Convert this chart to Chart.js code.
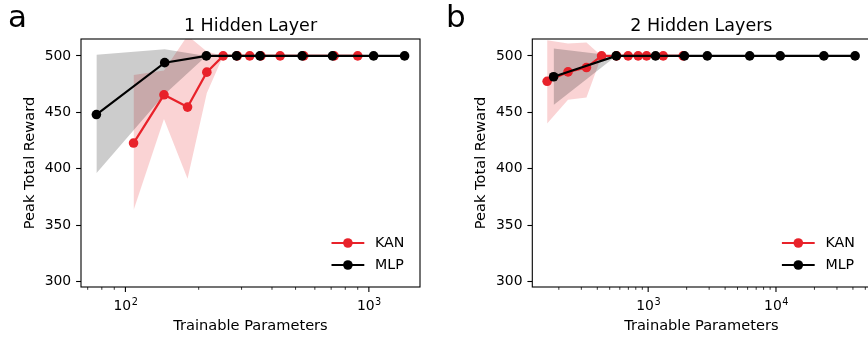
<!DOCTYPE html>
<html><head><meta charset="utf-8">
<script src="https://cdn.jsdelivr.net/npm/chart.js@4.4.1/dist/chart.umd.min.js"></script>
<style>
html,body{margin:0;padding:0;background:#fff;overflow:hidden;width:868px;height:341px;}
#wa{position:absolute;left:0;top:0;width:440px;height:341px;}
#wb{position:absolute;left:440px;top:0;width:440px;height:341px;}
</style></head><body>
<div id="wa"><canvas id="ca" width="440" height="341"></canvas></div>
<div id="wb"><canvas id="cb" width="440" height="341"></canvas></div>
<script>
// ---- Panel a: 1 hidden layer ----
const KAN_X_A = [108, 144, 180, 216, 252, 288, 324, 360, 432, 540, 720, 900];
const KAN_Y_A = [422.7, 465.5, 454.6, 485.6, 500, 500, 500, 500, 500, 500, 500, 500];
const KAN_LO_A = [363, 444, 391, 467, 500, 500, 500, 500, 500, 500, 500, 500];
const KAN_HI_A = [483, 487, 518, 504, 500, 500, 500, 500, 500, 500, 500, 500];
const MLP_X_A = [76, 145, 215, 286, 357, 532, 709, 1046, 1402];
const MLP_Y_A = [448, 494, 500, 500, 500, 500, 500, 500, 500];
const MLP_LO_A = [396, 466, 500, 500, 500, 500, 500, 500, 500];
const MLP_HI_A = [501, 506, 500, 500, 500, 500, 500, 500, 500];

// ---- Panel b: 2 hidden layers ----
const KAN_X_B = [162, 236, 329, 432, 566, 697, 835, 972, 1311, 1879];
const KAN_Y_B = [477.5, 485.8, 489.7, 500, 500, 500, 500, 500, 500, 500];
const KAN_LO_B = [440, 461, 463, 500, 500, 500, 500, 500, 500, 500];
const KAN_HI_B = [514, 511, 512, 500, 500, 500, 500, 500, 500, 500];
const MLP_X_B = [182, 562, 1142, 1922, 2902, 6227, 10802, 23702, 41602];
const MLP_Y_B = [481.5, 500, 500, 500, 500, 500, 500, 500, 500];
const MLP_LO_B = [456.5, 500, 500, 500, 500, 500, 500, 500, 500];
const MLP_HI_B = [506.5, 500, 500, 500, 500, 500, 500, 500, 500];

const Y_TICKS = [300, 350, 400, 450, 500];
const X_TICKS_A = [100, 1000];
const X_TICKS_B = [1000, 10000];
const SERIES_NAMES = ['KAN', 'MLP'];

const RED = '#e8222a', BLACK = '#000000';
const RED_BAND = 'rgba(232,34,42,0.2)', GRAY_BAND = 'rgba(0,0,0,0.2)';
const FONT = "'DejaVu Sans', sans-serif";

function pts(xs, ys) { return xs.map((x, i) => ({x: x, y: ys[i]})); }

function bandSet(xs, ys, fill, color, order) {
  return {data: pts(xs, ys), borderWidth: 0, borderColor: 'transparent', pointRadius: 0,
    pointHoverRadius: 0, fill: fill, backgroundColor: color, order: order};
}
function lineSet(label, xs, ys, color, order) {
  return {label: label, data: pts(xs, ys), borderColor: color, backgroundColor: color,
    borderWidth: 2.2, pointRadius: 4.8, pointHoverRadius: 4.8, pointBorderWidth: 0,
    pointBackgroundColor: color, fill: false, order: order};
}

function drawSup(ctx, base, exp, cx, baseline) {
  ctx.font = '13.9px ' + FONT;
  const w1 = ctx.measureText(base).width;
  ctx.font = '9.7px ' + FONT;
  const w2 = ctx.measureText(exp).width;
  const x0 = cx - (w1 + w2) / 2;
  ctx.textAlign = 'left'; ctx.textBaseline = 'alphabetic';
  ctx.font = '13.9px ' + FONT;
  ctx.fillText(base, x0, baseline);
  ctx.font = '9.7px ' + FONT;
  ctx.fillText(exp, x0 + w1 + 0.5, baseline - 5.5);
}

function makeChart(id, c) {
  const decor = {
    id: 'decor',
    afterDraw(chart) {
      const ctx = chart.ctx, ca = chart.chartArea, xs = chart.scales.x;
      ctx.save();
      ctx.fillStyle = '#000'; ctx.strokeStyle = '#000';
      // frame
      ctx.lineWidth = 1.1;
      ctx.strokeRect(ca.left, ca.top, ca.right - ca.left, ca.bottom - ca.top);
      // x ticks (major + minor)
      const k0 = Math.floor(Math.log10(xs.min)), k1 = Math.ceil(Math.log10(xs.max));
      for (let k = k0; k <= k1; k++) {
        for (let m = 1; m <= 9; m++) {
          const v = m * Math.pow(10, k);
          if (v < xs.min || v > xs.max) continue;
          const px = xs.getPixelForValue(v);
          const major = (m === 1);
          ctx.lineWidth = major ? 1.1 : 0.8;
          ctx.beginPath();
          ctx.moveTo(px, ca.bottom);
          ctx.lineTo(px, ca.bottom + (major ? 4.9 : 2.8));
          ctx.stroke();
        }
      }
      // x tick labels
      c.xticks.forEach(v => {
        const px = xs.getPixelForValue(v);
        drawSup(ctx, '10', String(Math.round(Math.log10(v))), px, ca.bottom + 23);
      });
      const cx = (ca.left + ca.right) / 2, cy = (ca.top + ca.bottom) / 2;
      // title
      ctx.textAlign = 'center'; ctx.textBaseline = 'alphabetic';
      ctx.font = '17.5px ' + FONT;
      ctx.fillText(c.title, cx, ca.top - 8.5);
      // x axis title
      ctx.font = '14.6px ' + FONT;
      ctx.fillText('Trainable Parameters', cx, ca.bottom + 43);
      // y axis title
      ctx.save();
      ctx.translate(ca.left - 47.5, cy);
      ctx.rotate(-Math.PI / 2);
      ctx.fillText('Peak Total Reward', 0, 0);
      ctx.restore();
      // panel label
      ctx.textAlign = 'left';
      ctx.font = '31px ' + FONT;
      ctx.fillText(c.panel, c.panelX, 27);
      // legend
      const colors = [RED, BLACK];
      const rows = [243, 265];
      SERIES_NAMES.forEach((name, i) => {
        const y = rows[i];
        const x0 = ca.right - 88.5, x1 = ca.right - 55.7;
        ctx.strokeStyle = colors[i]; ctx.fillStyle = colors[i];
        ctx.lineWidth = 2.2;
        ctx.beginPath(); ctx.moveTo(x0, y); ctx.lineTo(x1, y); ctx.stroke();
        ctx.beginPath(); ctx.arc((x0 + x1) / 2, y, 4.8, 0, Math.PI * 2); ctx.fill();
        ctx.fillStyle = '#000';
        ctx.font = '14.2px ' + FONT;
        ctx.textBaseline = 'middle';
        ctx.fillText(name, ca.right - 45, y + 0.5);
        ctx.textBaseline = 'alphabetic';
      });
      ctx.restore();
    }
  };
  return new Chart(document.getElementById(id), {
    type: 'line',
    data: {
      datasets: [
        lineSet('MLP', c.mx, c.my, BLACK, 0),
        lineSet('KAN', c.kx, c.ky, RED, 1),
        bandSet(c.kx, c.khi, false, RED_BAND, 3),
        bandSet(c.kx, c.klo, '-1', RED_BAND, 3),
        bandSet(c.mx, c.mhi, false, GRAY_BAND, 2),
        bandSet(c.mx, c.mlo, '-1', GRAY_BAND, 2)
      ]
    },
    options: {
      responsive: false, animation: false, devicePixelRatio: 1, events: [],
      layout: {padding: {left: 0, right: c.padR, top: 39, bottom: 54}},
      plugins: {legend: {display: false}, tooltip: {enabled: false}, title: {display: false}},
      scales: {
        x: {type: 'logarithmic', min: c.xmin, max: c.xmax,
            grid: {display: false}, border: {display: false}, ticks: {display: false},
            afterFit: s => { s.height = 0; }},
        y: {type: 'linear', min: 295, max: 515,
            grid: {display: true, drawOnChartArea: false, drawTicks: true, tickLength: 4.9,
                   tickColor: '#000', tickWidth: 1.1},
            border: {display: false},
            ticks: {color: '#000', font: {family: FONT, size: 13.9}, padding: 4.9},
            afterBuildTicks: s => { s.ticks = Y_TICKS.map(v => ({value: v})); },
            afterFit: s => { s.width = c.left; }}
      }
    },
    plugins: [decor]
  });
}

makeChart('ca', {title: '1 Hidden Layer', panel: 'a', panelX: 8,
  kx: KAN_X_A, ky: KAN_Y_A, klo: KAN_LO_A, khi: KAN_HI_A,
  mx: MLP_X_A, my: MLP_Y_A, mlo: MLP_LO_A, mhi: MLP_HI_A,
  xmin: 65.7, xmax: 1622, xticks: X_TICKS_A, left: 81, padR: 20});
makeChart('cb', {title: '2 Hidden Layers', panel: 'b', panelX: 6,
  kx: KAN_X_B, ky: KAN_Y_B, klo: KAN_LO_B, khi: KAN_HI_B,
  mx: MLP_X_B, my: MLP_Y_B, mlo: MLP_LO_B, mhi: MLP_HI_B,
  xmin: 124, xmax: 54800, xticks: X_TICKS_B, left: 92.3, padR: 9.6});
</script>
</body></html>
